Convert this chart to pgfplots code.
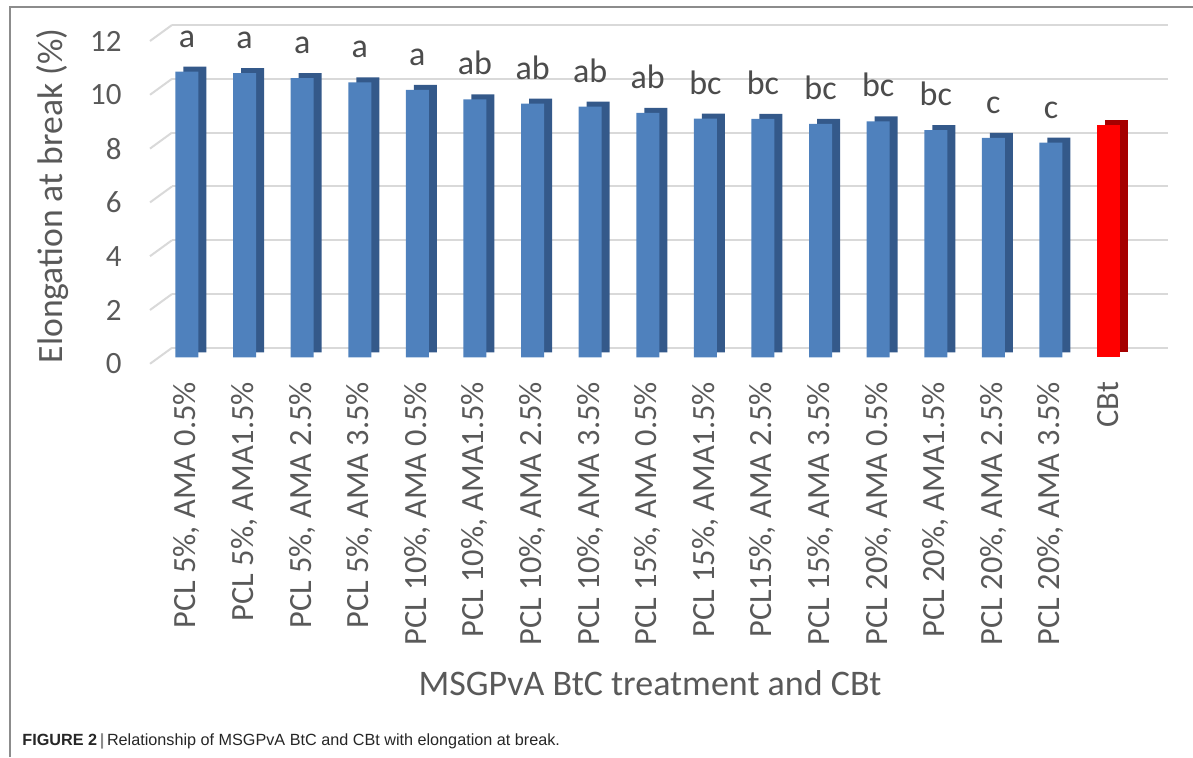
\documentclass[border=0pt]{standalone}
\usepackage{fontspec}
\setmainfont{Carlito}
\newfontfamily\capfont{Liberation Sans}
\usepackage{pgfplots}
\usepackage{pgfplotstable}
\pgfplotsset{compat=1.18}

\definecolor{barblue}{HTML}{4F81BD}
\definecolor{barblueside}{HTML}{34598A}
\definecolor{barred}{HTML}{FF0000}
\definecolor{barredside}{HTML}{A50000}
\definecolor{gridgray}{HTML}{D9D9D9}
\definecolor{txtgray}{HTML}{595959}
\definecolor{framegray}{HTML}{8C8C8C}

% elongation at break (%)
\pgfplotstableread{
x y lbl
0 10.62 a
1 10.56 a
2 10.38 a
3 10.22 a
4 9.94 a
5 9.59 ab
6 9.43 ab
7 9.32 ab
8 9.09 ab
9 8.87 bc
10 8.86 bc
11 8.68 bc
12 8.77 bc
13 8.45 bc
14 8.16 c
15 7.98 c
}\treat
\pgfplotstableread{
x y
16 8.65
}\control

\begin{document}
\begin{tikzpicture}
\draw[framegray, line width=0.8pt] (5pt,0pt) -- (5pt,375pt) -- (596.5pt,375pt);
\begin{axis}[
    at={(75pt,199.85pt)}, anchor=south west,
    scale only axis, width=498pt, height=161.4pt,
    xmin=-0.642, xmax=16.65, ymin=0, ymax=12,
    ytick={0,2,...,12},
    xtick={0,...,16},
    xticklabels={{PCL 5\%, AMA 0.5\%},{PCL 5\%, AMA1.5\%},{PCL 5\%, AMA 2.5\%},{PCL 5\%, AMA 3.5\%},
        {PCL 10\%, AMA 0.5\%},{PCL 10\%, AMA1.5\%},{PCL 10\%, AMA 2.5\%},{PCL 10\%, AMA 3.5\%},
        {PCL 15\%, AMA 0.5\%},{PCL 15\%, AMA1.5\%},{PCL15\%, AMA 2.5\%},{PCL 15\%, AMA 3.5\%},
        {PCL 20\%, AMA 0.5\%},{PCL 20\%, AMA1.5\%},{PCL 20\%, AMA 2.5\%},{PCL 20\%, AMA 3.5\%},CBt},
    ymajorgrids,
    major grid style={draw=gridgray, line width=1pt, xshift=11pt, yshift=4.75pt},
    axis line style={draw=none},
    tick style={draw=none},
    clip=false,
    ybar, bar width=11.5pt,
    /pgf/number format/assume math mode=true,
    yticklabel style={font=\fontsize{15.5}{18}\selectfont, text=txtgray, inner sep=0pt, yshift=-3.25pt},
    yticklabel shift=14pt,
    xticklabel style={font=\fontsize{16.2}{19}\selectfont, text=txtgray, rotate=90, anchor=east, inner sep=0pt},
    xticklabel shift=7.85pt,
    xlabel={MSGPvA BtC treatment and CBt},
    ylabel={Elongation at break (\%)},
    xlabel style={font=\fontsize{18}{20}\selectfont, text=txtgray, at={(axis description cs:0.5,0)}, anchor=base, yshift=-168.85pt, xshift=1pt},
    ylabel style={font=\fontsize{17.8}{20}\selectfont, text=txtgray, at={(axis description cs:-0.0974,0.5)}, anchor=center},
]
\pgfplotsinvokeforeach{0,2,4,6,8,10,12}{
    \draw[gridgray, line width=1pt] ([yshift=-3.25pt]axis cs:-0.642,#1) -- ([xshift=11pt,yshift=4.75pt]axis cs:-0.642,#1);
}
\addplot[fill=barblueside, draw=none, bar shift=0pt, xshift=4pt, yshift=2.5pt] table[x=x,y=y]{\treat};
\addplot[fill=barblue, draw=none, bar shift=0pt,
    nodes near coords, point meta=explicit symbolic,
    every node near coord/.append style={anchor=base, yshift=12.25pt, font=\fontsize{17}{20}\selectfont, text=txtgray!85!black}]
    table[x=x,y=y,meta=lbl]{\treat};
\addplot[fill=barredside, draw=none, bar shift=0pt, xshift=4pt, yshift=2.5pt] table[x=x,y=y]{\control};
\addplot[fill=barred, draw=none, bar shift=0pt] table[x=x,y=y]{\control};
\end{axis}
\node[anchor=base west, inner sep=0pt, font=\capfont\fontsize{8.1}{10}\selectfont, text=black!85] at (11pt,6pt)
    {\textbf{FIGURE 2}\,{\color{framegray}\textbf{|}}\,Relationship of MSGPvA BtC and CBt with elongation at break.};
\pgfresetboundingbox
\path[use as bounding box] (0pt,0pt) rectangle (596.5pt,378.5pt);
\end{tikzpicture}
\end{document}
